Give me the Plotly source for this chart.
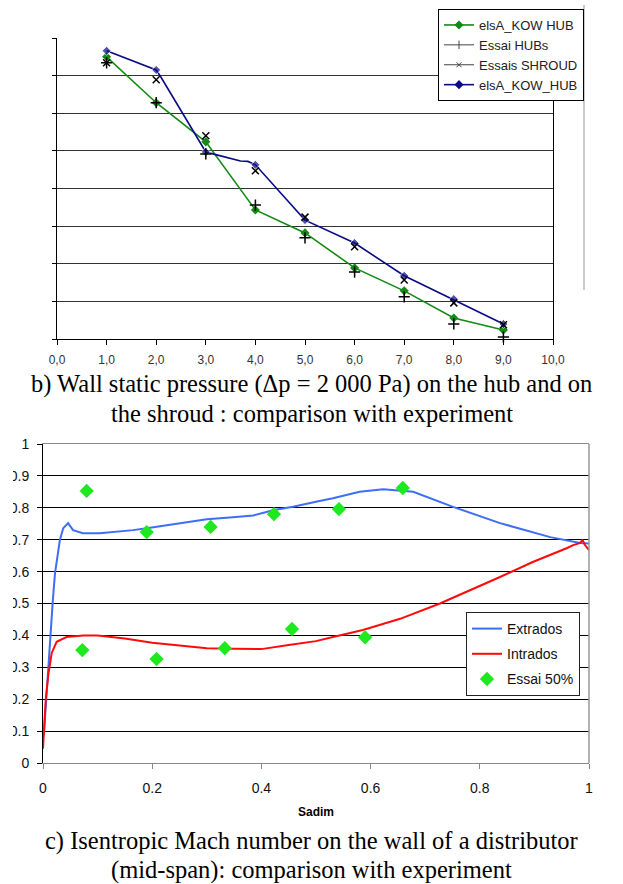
import plotly.graph_objects as go

# ---------------- Chart b) : wall static pressure ----------------
pos_b = [1, 2, 3, 4, 5, 6, 7, 8, 9]
x_ticks_b = [0, 1, 2, 3, 4, 5, 6, 7, 8, 9, 10]
x_ticktext_b = ["0,0", "1,0", "2,0", "3,0", "4,0", "5,0", "6,0", "7,0", "8,0", "9,0", "10,0"]

kow_hub_green = [7.50, 6.28, 5.24, 3.43, 2.82, 1.89, 1.28, 0.56, 0.24]
kow_hub_navy_x = [1, 2, 2.1, 3, 3.2, 3.7, 3.85, 4, 5, 6, 7, 7.25, 8, 9]
kow_hub_navy_y = [7.66, 7.15, 6.95, 4.97, 4.90, 4.73, 4.72, 4.63, 3.16, 2.55, 1.68, 1.52, 1.06, 0.40]
navy_marker_on = [1, 1, 0, 1, 0, 0, 0, 1, 1, 1, 1, 0, 1, 1]
essai_hub = [7.34, 6.28, 4.92, 3.56, 2.69, 1.78, 1.12, 0.40, 0.05]
essai_shroud = [7.34, 6.89, 5.40, 4.47, 3.24, 2.45, 1.57, 0.96, 0.38]

# ---------------- Chart c) : isentropic Mach number ----------------
extrados_x = [0.0, 0.002, 0.004, 0.007, 0.009, 0.013, 0.018, 0.022, 0.027, 0.031, 0.037,
              0.046, 0.055, 0.073, 0.104, 0.136, 0.165, 0.19, 0.227, 0.264, 0.30, 0.348,
              0.385, 0.423, 0.458, 0.502, 0.531, 0.58, 0.623, 0.678, 0.751, 0.837, 0.929,
              0.984, 1.0]
extrados_y = [0.08, 0.10, 0.15, 0.23, 0.30, 0.41, 0.51, 0.595, 0.657, 0.70, 0.736,
              0.752, 0.73, 0.72, 0.72, 0.724, 0.73, 0.736, 0.745, 0.755, 0.764, 0.77,
              0.776, 0.793, 0.803, 0.82, 0.83, 0.85, 0.858, 0.85, 0.803, 0.752, 0.708,
              0.69, 0.688]
intrados_x = [0.0, 0.002, 0.005, 0.010, 0.016, 0.025, 0.043, 0.074, 0.10, 0.15, 0.20, 0.25,
              0.30, 0.35, 0.40, 0.45, 0.50, 0.531, 0.586, 0.654, 0.727, 0.837, 0.897,
              0.96, 0.971, 0.984, 0.988, 0.992, 1.0]
intrados_y = [0.045, 0.10, 0.20, 0.28, 0.345, 0.38, 0.395, 0.40, 0.40, 0.39, 0.377, 0.368,
              0.36, 0.358, 0.357, 0.37, 0.382, 0.395, 0.417, 0.452, 0.50, 0.583, 0.63,
              0.674, 0.683, 0.69, 0.70, 0.685, 0.667]
essai50_x = [0.08, 0.19, 0.307, 0.423, 0.542, 0.659, 0.072, 0.208, 0.333, 0.456, 0.59]
essai50_y = [0.853, 0.724, 0.74, 0.78, 0.796, 0.862, 0.354, 0.326, 0.36, 0.42, 0.394]
x_ticks_c = [0, 0.2, 0.4, 0.6, 0.8, 1.0]
x_ticktext_c = ["0", "0.2", "0.4", "0.6", "0.8", "1"]
y_ticks_c = [0, 0.1, 0.2, 0.3, 0.4, 0.5, 0.6, 0.7, 0.8, 0.9, 1.0]
y_ticktext_c = ["0", "0.1", "0.2", "0.3", "0.4", "0.5", "0.6", "0.7", "0.8", "0.9", "1"]

W, H = 623, 884
GREEN = "#138a13"
NAVY = "#0a0a86"
BLUE = "#3d6ef5"
RED = "#ff0a0a"
LIME = "#1ee81e"

fig = go.Figure()

# --- chart b traces
fig.add_trace(go.Scatter(x=pos_b, y=kow_hub_green, mode="lines+markers", name="elsA_KOW HUB",
                         line=dict(color=GREEN, width=1.6),
                         marker=dict(symbol="diamond", size=7, color=GREEN),
                         xaxis="x", yaxis="y", legend="legend", legendrank=1))
fig.add_trace(go.Scatter(x=kow_hub_navy_x, y=kow_hub_navy_y, mode="lines+markers", name="elsA_KOW_HUB",
                         line=dict(color=NAVY, width=1.6),
                         marker=dict(symbol="diamond", size=[7 * m for m in navy_marker_on], color=NAVY),
                         xaxis="x", yaxis="y", showlegend=False))
fig.add_trace(go.Scatter(x=pos_b, y=essai_hub, mode="markers", name="Essai HUBs",
                         marker=dict(symbol="cross-thin", size=8, line=dict(color="#000", width=1.5)),
                         xaxis="x", yaxis="y", showlegend=False, cliponaxis=False))
fig.add_trace(go.Scatter(x=pos_b, y=essai_shroud, mode="markers", name="Essais SHROUD",
                         marker=dict(symbol="x-thin", size=7, line=dict(color="#000", width=1.5)),
                         xaxis="x", yaxis="y", showlegend=False, cliponaxis=False))
# legend-only entries (Excel style: line + marker sample)
fig.add_trace(go.Scatter(x=[None], y=[None], mode="lines+markers", name="Essai HUBs",
                         line=dict(color="#444", width=1),
                         marker=dict(symbol="line-ns", size=6, line=dict(color="#444", width=1)),
                         xaxis="x", yaxis="y", legend="legend", legendrank=2))
fig.add_trace(go.Scatter(x=[None], y=[None], mode="lines+markers", name="Essais SHROUD",
                         line=dict(color="#444", width=1),
                         marker=dict(symbol="x-thin", size=5, line=dict(color="#444", width=1)),
                         xaxis="x", yaxis="y", legend="legend", legendrank=3))
fig.add_trace(go.Scatter(x=[None], y=[None], mode="lines+markers", name="elsA_KOW_HUB",
                         line=dict(color=NAVY, width=1.6),
                         marker=dict(symbol="diamond", size=7, color=NAVY),
                         xaxis="x", yaxis="y", legend="legend", legendrank=4))

# --- chart c traces
fig.add_trace(go.Scatter(x=extrados_x, y=extrados_y, mode="lines", name="Extrados",
                         line=dict(color=BLUE, width=2),
                         xaxis="x2", yaxis="y2", legend="legend2", legendgroup="h1"))
fig.add_trace(go.Scatter(x=intrados_x, y=intrados_y, mode="lines", name="Intrados",
                         line=dict(color=RED, width=2),
                         xaxis="x2", yaxis="y2", legend="legend2", legendgroup="h2"))
fig.add_trace(go.Scatter(x=essai50_x, y=essai50_y, mode="markers", name="Essai 50%",
                         marker=dict(symbol="diamond", size=11, color=LIME),
                         xaxis="x2", yaxis="y2", legend="legend2", legendgroup="h3"))

AX_FONT = dict(family="Liberation Sans, Arial", size=12, color="#333")

fig.update_layout(
    width=W, height=H, autosize=False,
    margin=dict(l=0, r=0, t=0, b=0, pad=0, autoexpand=False),
    paper_bgcolor="white", plot_bgcolor="white",
    xaxis=dict(domain=[57 / W, 553 / W], range=[0, 10], tickvals=x_ticks_b, ticktext=x_ticktext_b,
               showgrid=False, zeroline=False, showline=True, linecolor="#000", linewidth=1,
               ticks="outside", ticklen=5, tickcolor="#000", tickfont=AX_FONT,
               ticklabelstandoff=5, automargin=False, anchor="y"),
    yaxis=dict(domain=[1 - 339 / H, 1 - 38 / H], range=[0, 8], dtick=1, tick0=0,
               showticklabels=False, showgrid=True, gridcolor="#333", gridwidth=1,
               zeroline=False, showline=True, mirror=True, linecolor="#000", linewidth=1,
               ticks="outside", ticklen=4, tickcolor="#000", automargin=False, anchor="x"),
    xaxis2=dict(domain=[43 / W, 589 / W], range=[0, 1], tickvals=x_ticks_c, ticktext=x_ticktext_c,
                showgrid=False, zeroline=False, showline=True, mirror=True, linecolor="#888", linewidth=1,
                ticks="outside", ticklen=5, tickcolor="#888",
                tickfont=dict(family="Liberation Sans, Arial", size=14, color="#111"),
                ticklabelstandoff=7,
                title=dict(text="<b>Sadim</b>", font=dict(family="Liberation Sans, Arial", size=12, color="#000"),
                           standoff=12),
                automargin=False, anchor="y2"),
    yaxis2=dict(domain=[1 - 763 / H, 1 - 444 / H], range=[0, 1], tickvals=y_ticks_c, ticktext=y_ticktext_c,
                showgrid=True, gridcolor="#000", gridwidth=1, zeroline=False,
                showline=True, linecolor="#000", linewidth=1,
                ticks="outside", ticklen=5, tickcolor="#000",
                tickfont=dict(family="Liberation Sans, Arial", size=14, color="#111"),
                ticklabelstandoff=5, automargin=False, anchor="x2"),
    legend=dict(x=438 / W, y=1 - 9 / H, xanchor="left", yanchor="top",
                bgcolor="white", bordercolor="#000", borderwidth=1,
                font=dict(family="Liberation Sans, Arial", size=13, color="#222"),
                itemwidth=30),
    legend2=dict(x=466 / W, y=1 - 612 / H, xanchor="left", yanchor="top",
                 bgcolor="white", bordercolor="#222", borderwidth=1,
                 font=dict(family="Liberation Sans, Arial", size=14, color="#111"),
                 traceorder="grouped", tracegroupgap=4, itemwidth=30),
    showlegend=True,
)

# frame fragments
fig.add_shape(type="line", xref="paper", yref="paper",
              x0=584 / W, x1=584 / W, y0=1 - 5 / H, y1=1 - 290 / H,
              line=dict(color="#999", width=1))
fig.add_shape(type="line", xref="paper", yref="paper",
              x0=589 / W, x1=589 / W, y0=1 - 444 / H, y1=1 - 763 / H,
              line=dict(color="#999", width=1.5), layer="above")
# clip left edge of the lower chart's tick labels as in the scanned source
fig.add_shape(type="rect", xref="paper", yref="paper",
              x0=0, x1=13 / W, y0=1 - 780 / H, y1=1 - 430 / H,
              line=dict(width=0), fillcolor="white", layer="above")

SERIF = dict(family="Liberation Serif, Times New Roman", size=24.5, color="#000")
captions = [
    ("b) Wall static pressure (\u0394p = 2 000 Pa) on the hub and on", 384),
    ("the shroud : comparison with experiment", 413),
    ("c) Isentropic Mach number on the wall of a distributor", 841),
    ("(mid-span): comparison with experiment", 870),
]
for txt, ypx in captions:
    fig.add_annotation(text=txt, xref="paper", yref="paper", x=0.5, y=1 - ypx / H,
                       xanchor="center", yanchor="middle", showarrow=False, font=SERIF)

fig.write_html("out.html")
